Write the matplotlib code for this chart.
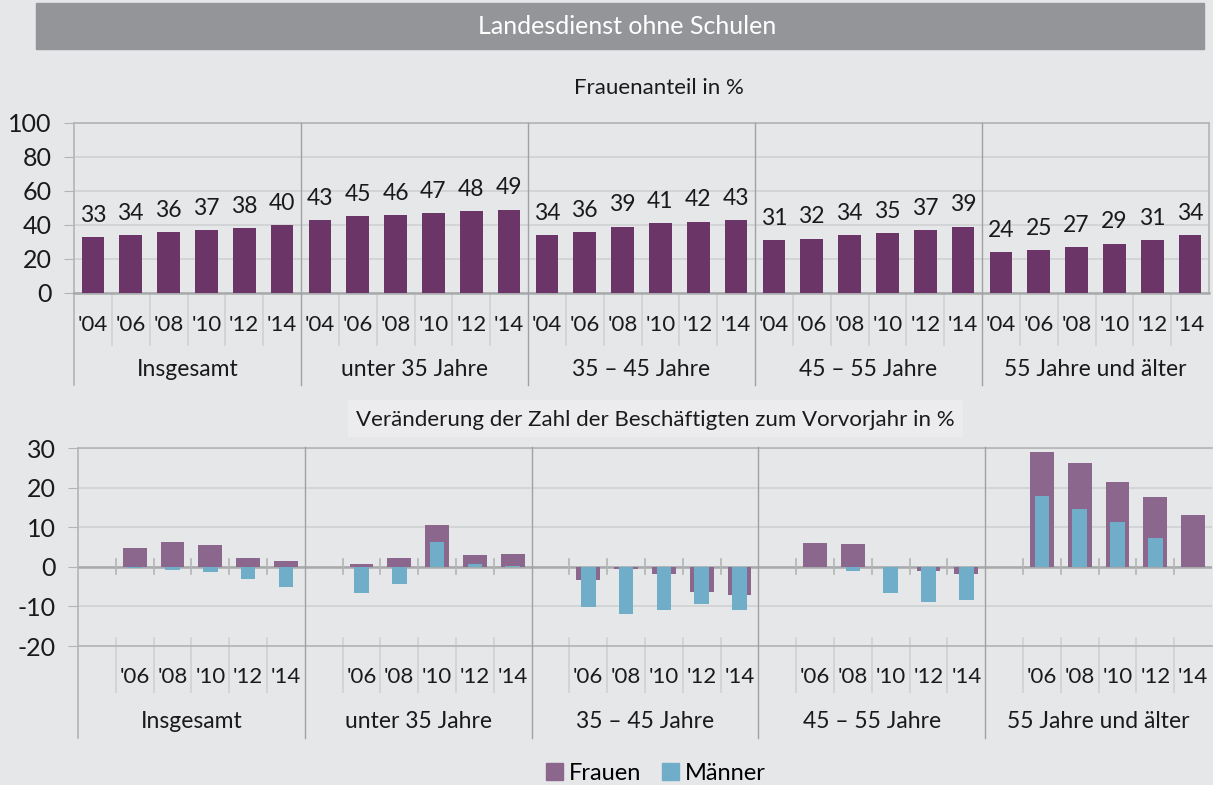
import matplotlib
matplotlib.use("Agg")
import matplotlib.pyplot as plt
from matplotlib.transforms import blended_transform_factory
from matplotlib.patches import Rectangle, Patch

plt.rcParams['font.family'] = ['Lato', 'DejaVu Sans']
plt.rcParams['axes.unicode_minus'] = False

# --- data ---
groups = ['Insgesamt', 'unter 35 Jahre', '35 – 45 Jahre', '45 – 55 Jahre', '55 Jahre und älter']
years = ["'04", "'06", "'08", "'10", "'12", "'14"]
change_years = ["'06", "'08", "'10", "'12", "'14"]

share_women = [
    [33, 34, 36, 37, 38, 40],
    [43, 45, 46, 47, 48, 49],
    [34, 36, 39, 41, 42, 43],
    [31, 32, 34, 35, 37, 39],
    [24, 25, 27, 29, 31, 34],
]

change_women = [
    [4.8, 6.2, 5.4, 2.3, 1.5],
    [0.8, 2.2, 10.5, 3.1, 3.3],
    [-3.3, -0.6, -1.8, -6.3, -7.2],
    [6.0, 5.7, 0.0, -1.1, -1.9],
    [28.9, 26.2, 21.4, 17.6, 13.2],
]
change_men = [
    [-0.3, -0.8, -1.3, -3.0, -5.0],
    [-6.7, -4.3, 6.2, 0.6, 0.1],
    [-10.2, -11.9, -11.0, -9.4, -10.8],
    [0.0, -1.0, -6.5, -8.8, -8.4],
    [18.0, 14.5, 11.3, 7.2, 0.0],
]

# --- style ---
BG = '#e6e7e9'
DARK_PURPLE = '#6b3567'
PURPLE = '#8b678e'
BLUE = '#6fadc8'
GRID = '#d0d1d3'
FRAME = '#b3b4b6'
DIV = '#a0a1a3'
TXT = '#1a1a1a'

W, H = 1213, 785
fig = plt.figure(figsize=(W / 100, H / 100), dpi=100)
fig.patch.set_facecolor(BG)


def px_axes(l, t, r, b):
    return fig.add_axes([l / W, 1 - b / H, (r - l) / W, (b - t) / H])


def fy(py):
    return 1 - py / H


# title bar
fig.patches.append(Rectangle((36 / W, fy(49)), (1204 - 36) / W, 46 / H,
                             transform=fig.transFigure, color='#939598', zorder=0))
fig.text(627 / W, fy(26), 'Landesdienst ohne Schulen', color='white',
         fontsize=18, ha='center', va='center')

fig.text(659 / W, fy(88), 'Frauenanteil in %', color=TXT, fontsize=16,
         ha='center', va='center')


def style_axes(ax, ymin, ymax, step):
    ax.set_facecolor(BG)
    ax.set_xlim(-0.5, 29.5)
    ax.set_ylim(ymin, ymax)
    ax.set_yticks(range(ymin, ymax + 1, step))
    ax.set_xticks([])
    ax.grid(axis='y', color=GRID, linewidth=1.2)
    ax.set_axisbelow(True)
    for s in ax.spines.values():
        s.set_color(FRAME)
        s.set_linewidth(1.2)
    ax.tick_params(axis='y', length=7, color=FRAME, labelsize=18, labelcolor=TXT, pad=9)


# --- top chart ---
ax1 = px_axes(74, 123, 1209, 293)
style_axes(ax1, 0, 100, 20)
ax1.spines['bottom'].set_color('#a8a9ab')
ax1.spines['bottom'].set_linewidth(1.8)
for g, vals in enumerate(share_women):
    xs = [g * 6 + i for i in range(6)]
    ax1.bar(xs, vals, width=0.6, color=DARK_PURPLE, zorder=3)
    for x, v in zip(xs, vals):
        ax1.annotate(str(v), (x, v), xytext=(0, 11), textcoords='offset points',
                     ha='center', va='baseline', fontsize=16.5, color=TXT)

tr1 = blended_transform_factory(ax1.transData, fig.transFigure)
for k in range(1, 30):
    x = k - 0.5
    if k % 6 == 0:
        ax1.plot([x, x], [fy(123), fy(385)], transform=tr1, color=DIV, lw=1, clip_on=False, zorder=4)
    else:
        ax1.plot([x, x], [fy(293), fy(345)], transform=tr1, color=GRID, lw=1.2, clip_on=False)
ax1.plot([-0.5, -0.5], [fy(293), fy(385)], transform=tr1, color=FRAME, lw=1.2, clip_on=False)
for g, name in enumerate(groups):
    for i, y in enumerate(years):
        ax1.text(g * 6 + i, fy(325), y, transform=tr1, ha='center', va='center',
                 fontsize=16, color=TXT)
    ax1.text(g * 6 + 2.5, fy(370), name, transform=tr1, ha='center', va='center',
             fontsize=16.5, color=TXT)

# --- bottom chart ---
fig.patches.append(Rectangle((348 / W, fy(436)), (962 - 348) / W, 36 / H,
                             transform=fig.transFigure, color='#ececee', zorder=0))
fig.text(655 / W, fy(420), 'Veränderung der Zahl der Beschäftigten zum Vorvorjahr in %',
         color=TXT, fontsize=16, ha='center', va='center')

ax2 = px_axes(78, 448, 1212, 646)
style_axes(ax2, -20, 30, 10)
ax2.spines['right'].set_visible(False)
ax2.axhline(0, color='#a8a9ab', lw=1.8, zorder=2)
for g in range(5):
    xs = [g * 6 + 1 + i for i in range(5)]
    ax2.bar(xs, change_women[g], width=0.63, color=PURPLE, zorder=3)
    ax2.bar(xs, change_men[g], width=0.39, color=BLUE, zorder=4)

tr2 = blended_transform_factory(ax2.transData, fig.transFigure)
for k in range(1, 30):
    x = k - 0.5
    if k % 6 == 0:
        ax2.plot([x, x], [fy(447), fy(738)], transform=tr2, color=DIV, lw=1, clip_on=False, zorder=5)
    else:
        ax2.plot([x, x], [fy(559), fy(574)], transform=tr2, color=FRAME, lw=1.2, clip_on=False, zorder=5)
        ax2.plot([x, x], [fy(638), fy(692)], transform=tr2, color=GRID, lw=1.2, clip_on=False)
ax2.plot([-0.5, -0.5], [fy(646), fy(738)], transform=tr2, color=FRAME, lw=1.2, clip_on=False)
for g, name in enumerate(groups):
    for i, y in enumerate(change_years):
        ax2.text(g * 6 + 1 + i, fy(677), y, transform=tr2, ha='center', va='center',
                 fontsize=16, color=TXT)
    ax2.text(g * 6 + 2.5, fy(721), name, transform=tr2, ha='center', va='center',
             fontsize=16.5, color=TXT)

handles = [Patch(color=PURPLE, label='Frauen'), Patch(color=BLUE, label='Männer')]
fig.legend(handles=handles, loc='center', bbox_to_anchor=(656 / W, fy(773)), ncol=2,
           frameon=False, fontsize=17, handlelength=0.7, handleheight=0.7,
           handletextpad=0.25, columnspacing=0.9, borderaxespad=0, borderpad=0)

fig.savefig('out.png', dpi=100, facecolor=BG)
